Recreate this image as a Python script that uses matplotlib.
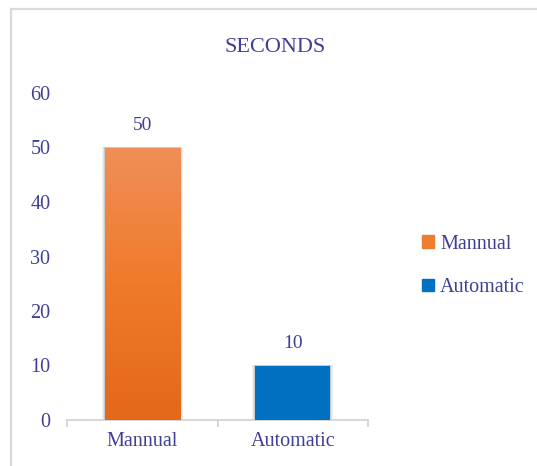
import matplotlib
matplotlib.use('Agg')
import matplotlib.pyplot as plt
import numpy as np
from matplotlib.colors import LinearSegmentedColormap
from matplotlib.patches import Rectangle
from matplotlib.lines import Line2D

categories = ['Mannual', 'Automatic']
seconds = [50, 10]
yticks = [0, 10, 20, 30, 40, 50, 60]
bar_colors = ['#ED7D31', '#0070C0']
text_color = '#3F3F98'

plt.rcParams['font.family'] = ['Liberation Serif', 'DejaVu Serif']

fig = plt.figure(figsize=(5.37, 4.66), dpi=100)
ax = fig.add_axes([67 / 537, 1 - 420 / 466, (368 - 67) / 537, (420 - 93) / 466])

# light grey chart border (only left and top are visible)
bx, by = 11 / 537, 1 - 9 / 466
fig.lines.append(Line2D([bx, bx], [0, by], transform=fig.transFigure, color='#D9D9D9', linewidth=1.6))
fig.lines.append(Line2D([bx, 1], [by, by], transform=fig.transFigure, color='#D9D9D9', linewidth=1.6))

x = np.arange(len(categories))
bars = ax.bar(x, seconds, width=0.5, color=bar_colors, zorder=3)

# soft shadow around bars
for b in bars:
    for k, a in [(3, 0.05), (2, 0.07), (1, 0.09)]:
        dx = 0.006 * k
        sh = Rectangle((b.get_x() - dx, 0), b.get_width() + 2 * dx, b.get_height() + dx * 8,
                       color='black', alpha=a, linewidth=0, zorder=2)
        ax.add_patch(sh)

# orange gradient on first bar
grad = LinearSegmentedColormap.from_list('og', ['#E3681A', '#EF7A2A', '#F08F58'])
b0 = bars[0]
img = ax.imshow(np.linspace(0, 1, 256).reshape(-1, 1), cmap=grad, origin='lower',
                extent=[b0.get_x(), b0.get_x() + b0.get_width(), 0, b0.get_height()],
                aspect='auto', zorder=4)
img.set_clip_path(b0)

for xi, v in zip(x, seconds):
    ax.text(xi, v + 4, str(v), ha='center', va='center', fontsize=14, color=text_color)

ax.set_xlim(-0.5, 1.5)
ax.set_ylim(0, 60)
ax.set_yticks(yticks)
ax.set_xticks(x)
ax.set_xticklabels(categories)
ax.tick_params(axis='y', length=0, pad=12, labelsize=14.5, labelcolor=text_color)
ax.tick_params(axis='x', length=0, pad=9, labelsize=14.5, labelcolor=text_color)
for s in ['top', 'right', 'left']:
    ax.spines[s].set_visible(False)
ax.spines['bottom'].set_color('#D0D0D0')
ax.spines['bottom'].set_linewidth(1.2)
# category boundary ticks
ax.set_xticks([-0.5, 0.5, 1.5], minor=True)
ax.tick_params(axis='x', which='minor', length=5, color='#D0D0D0', width=1.2)

fig.text(275 / 537, 1 - 47 / 466, 'SECONDS', fontsize=16, color=text_color,
         ha='center', va='center')

handles = [Rectangle((0, 0), 1, 1, color=c) for c in bar_colors]
fig.legend(handles, categories, loc='center left', bbox_to_anchor=(404 / 537, 1 - 266 / 466),
           frameon=False, fontsize=14.5, labelcolor=text_color, handlelength=0.6,
           handleheight=0.6, handletextpad=0.3, labelspacing=1.2)

fig.savefig('out.png', dpi=100)
